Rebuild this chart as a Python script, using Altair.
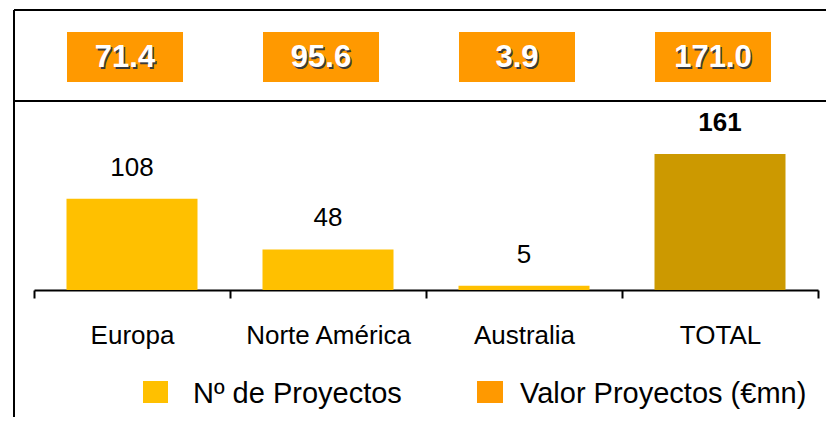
import altair as alt
import pandas as pd

categories = ["Europa", "Norte América", "Australia", "TOTAL"]
n_proyectos = [108, 48, 5, 161]
valor_proyectos = [71.4, 95.6, 3.9, 171.0]
bar_colors = ["#FFC000", "#FFC000", "#FFC000", "#CC9900"]
legend_labels = ["Nº de Proyectos", "Valor Proyectos (€mn)"]
legend_colors = ["#FFC000", "#FF9900"]

df = pd.DataFrame({"cat": categories, "n": n_proyectos, "valor": valor_proyectos})

FONT = "Liberation Sans"

x_enc = alt.X(
    "cat:N",
    sort=categories,
    scale=alt.Scale(paddingInner=0, paddingOuter=0),
    axis=alt.Axis(
        title=None,
        labelAngle=0,
        labelFont=FONT,
        labelFontSize=26,
        labelColor="#000000",
        labelBaseline="alphabetic",
        labelPadding=45,
        tickBand="extent",
        tickSize=8,
        tickWidth=2,
        tickColor="#000000",
        domainColor="#000000",
        domainWidth=2,
        grid=False,
    ),
)
y_scale = alt.Scale(domain=[0, 331.5])

base = alt.Chart(df)

bars = base.mark_bar(size=131).encode(
    x=x_enc,
    y=alt.Y("n:Q", scale=y_scale, axis=None),
    color=alt.Color("cat:N", scale=alt.Scale(domain=categories, range=bar_colors), legend=None),
)

lbl_regular = base.transform_filter(alt.datum.cat != "TOTAL").mark_text(
    font=FONT, fontSize=26, baseline="alphabetic", dy=-23, color="#000000"
).encode(x=alt.X("cat:N", sort=categories), y=alt.Y("n:Q", scale=y_scale), text="n:Q")

lbl_bold = base.transform_filter(alt.datum.cat == "TOTAL").mark_text(
    font=FONT, fontSize=26, fontWeight="bold", baseline="alphabetic", dy=-23, color="#000000"
).encode(x=alt.X("cat:N", sort=categories), y=alt.Y("n:Q", scale=y_scale), text="n:Q")

boxes = base.mark_bar(size=116, xOffset=-7, color="#FF9900").encode(
    x=alt.X("cat:N", sort=categories), y=alt.value(22), y2=alt.value(72)
)
box_shadow = base.mark_text(
    font=FONT, fontSize=31, fontWeight="bold", baseline="middle", dx=-5.5, dy=1.5, color="#3a3a3a"
).encode(x=alt.X("cat:N", sort=categories), y=alt.value(48), text=alt.Text("valor:Q", format=".1f"))
box_text = base.mark_text(
    font=FONT, fontSize=31, fontWeight="bold", baseline="middle", dx=-7, color="#FFFFFF"
).encode(x=alt.X("cat:N", sort=categories), y=alt.value(48), text=alt.Text("valor:Q", format=".1f"))

line_top = alt.Chart(df).mark_rule(color="#000000", strokeWidth=2).encode(
    x=alt.value(-20), x2=alt.value(792), y=alt.value(0)
)
line_mid = alt.Chart(df).mark_rule(color="#000000", strokeWidth=2).encode(
    x=alt.value(-20), x2=alt.value(792), y=alt.value(91)
)
line_left = alt.Chart(df).mark_rule(color="#000000", strokeWidth=2).encode(
    x=alt.value(-20), y=alt.value(0), y2=alt.value(407)
)

leg_df = pd.DataFrame({"label": legend_labels, "color": legend_colors})
leg1 = alt.Chart(leg_df).transform_filter(alt.datum.label == legend_labels[0])
leg2 = alt.Chart(leg_df).transform_filter(alt.datum.label == legend_labels[1])
sym1 = leg1.mark_rect().encode(
    x=alt.value(109), x2=alt.value(134), y=alt.value(371), y2=alt.value(393),
    color=alt.Color("color:N", scale=None),
)
txt1 = leg1.mark_text(font=FONT, fontSize=29, align="left", baseline="alphabetic", color="#000000").encode(
    x=alt.value(159), y=alt.value(393), text="label:N"
)
sym2 = leg2.mark_rect().encode(
    x=alt.value(443), x2=alt.value(469), y=alt.value(371), y2=alt.value(393),
    color=alt.Color("color:N", scale=None),
)
txt2 = leg2.mark_text(font=FONT, fontSize=29, align="left", baseline="alphabetic", color="#000000").encode(
    x=alt.value(486), y=alt.value(393), text="label:N"
)

chart = alt.layer(
    bars, lbl_regular, lbl_bold, boxes, box_shadow, box_text,
    line_top, line_mid, line_left, sym1, txt1, sym2, txt2,
).resolve_scale(color="independent").properties(
    width=784,
    height=280,
    autosize=alt.AutoSizeParams(type="none"),
    padding={"left": 26, "top": 2, "right": 8, "bottom": 127},
    background="#FFFFFF",
).configure_view(stroke=None)

chart.save("out.html", embed_options={"renderer": "svg", "actions": False})
